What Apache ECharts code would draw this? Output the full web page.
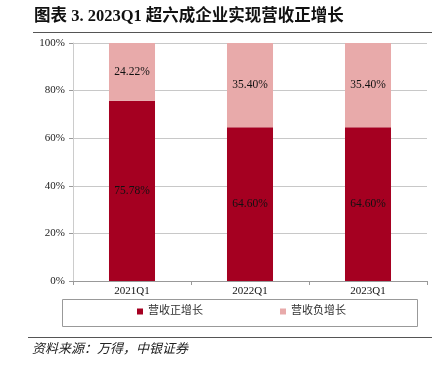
<!DOCTYPE html>
<html>
<head>
<meta charset="utf-8">
<script src="https://cdn.jsdelivr.net/npm/echarts@6/dist/echarts.min.js"></script>
<style>
  html, body {margin: 0; padding: 0; background: #fff;}
  #chart {width: 440px; height: 366px;}
</style>
</head>
<body>
<div id="chart"></div>
<script>
// 数据
const categories = ['2021Q1', '2022Q1', '2023Q1'];
const posGrowth = [75.78, 64.60, 64.60];   // 营收正增长
const negGrowth = [24.22, 35.40, 35.40];   // 营收负增长
const yTicks = [0, 20, 40, 60, 80, 100];

const serif = '"Liberation Serif", "Times New Roman", "Noto Sans CJK SC", serif';

const myChart = echarts.init(document.getElementById('chart'));
myChart.setOption({
    animation: false,
    graphic: [
        { // 标题
            type: 'text', left: 34, top: 8,
            style: {text: '图表 3. 2023Q1 超六成企业实现营收正增长', fill: '#111', fontSize: 16.5, fontWeight: 'bold', fontFamily: serif}
        },
        {type: 'line', shape: {x1: 33, y1: 32.5, x2: 432, y2: 32.5}, style: {stroke: '#555', lineWidth: 1}},
        { // 图例框
            type: 'rect', shape: {x: 62.5, y: 299.5, width: 355, height: 27},
            style: {fill: 'none', stroke: '#999', lineWidth: 1}
        },
        {type: 'line', shape: {x1: 28, y1: 337.5, x2: 432, y2: 337.5}, style: {stroke: '#555', lineWidth: 1}},
        { // 资料来源
            type: 'text', left: 32, top: 343,
            style: {text: '资料来源：万得，中银证券', fill: '#222', fontSize: 13, fontStyle: 'italic', fontFamily: serif}
        }
    ],
    grid: {left: 73, right: 13, top: 43, bottom: 85},
    legend: {
        data: ['营收正增长', '营收负增长'],
        left: 137, top: 306,
        padding: 0,
        itemGap: 77,
        icon: 'rect', itemWidth: 6, itemHeight: 6,
        textStyle: {fontSize: 11, color: '#333', fontFamily: serif}
    },
    xAxis: {
        type: 'category',
        data: categories,
        axisLine: {lineStyle: {color: '#999'}},
        axisTick: {show: true, length: 4, lineStyle: {color: '#999'}},
        axisLabel: {color: '#111', fontSize: 11, fontFamily: serif, margin: 5}
    },
    yAxis: {
        type: 'value',
        min: yTicks[0], max: yTicks[yTicks.length - 1], interval: 20,
        axisLine: {show: true, lineStyle: {color: '#ccc'}},
        axisTick: {show: true, length: 4, lineStyle: {color: '#999'}},
        splitLine: {lineStyle: {color: '#c8c8c8'}},
        axisLabel: {formatter: '{value}%', color: '#222', fontSize: 11, fontFamily: serif, margin: 8}
    },
    series: [
        {
            name: '营收正增长', type: 'bar', stack: 'total',
            data: posGrowth, barWidth: '39%',
            itemStyle: {color: '#A50021'},
            label: {show: true, position: 'inside', formatter: p => p.value.toFixed(2) + '%', color: '#111', fontSize: 11.5, fontFamily: serif}
        },
        {
            name: '营收负增长', type: 'bar', stack: 'total',
            data: negGrowth, barWidth: '39%',
            itemStyle: {color: '#E8AAAA'},
            label: {show: true, position: 'inside', formatter: p => p.value.toFixed(2) + '%', color: '#111', fontSize: 11.5, fontFamily: serif}
        }
    ]
});
</script>
</body>
</html>
